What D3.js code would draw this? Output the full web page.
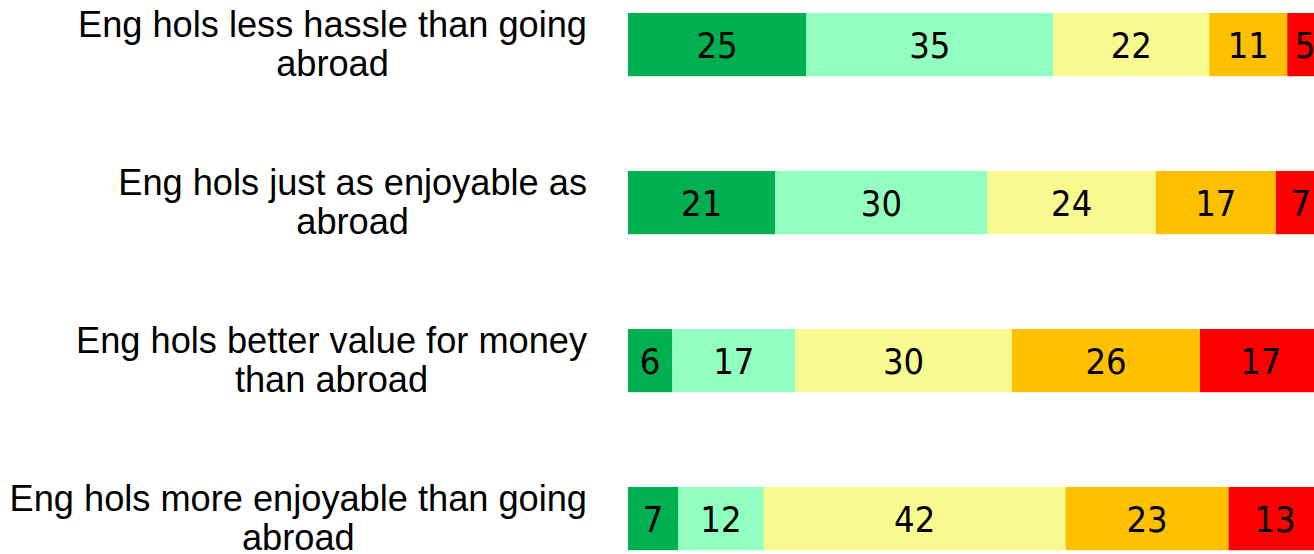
<!DOCTYPE html>
<html>
<head>
<meta charset="utf-8">
<script src="https://cdn.jsdelivr.net/npm/d3@7"></script>
<style>
	body { margin: 0; background: #fff; }
	svg { display: block; }
</style>
</head>
<body>
<svg id="chart" width="1314" height="554"></svg>
<script>
// statements, one bar each (\n = line break as in the original)
var statements = [
	'Eng hols less hassle than going\nabroad',
	'Eng hols just as enjoyable as\nabroad',
	'Eng hols better value for money\nthan abroad',
	'Eng hols more enjoyable than going\nabroad'
];
var answers = ['Agree strongly', 'Agree slightly', 'Neither', 'Disagree slightly', 'Disagree strongly'];
var answerColors = ['#00B050', '#92FFC0', '#F8FA90', '#FFC000', '#FF0000'];

// % per answer
var agreeStrongly = [24.9, 20.6, 6.2, 7.0];
var agreeSlightly = [34.6, 29.7, 17.2, 12.0];
var neither = [21.8, 23.5, 30.3, 42.2];
var disagreeSlightly = [10.9, 16.8, 26.3, 22.8];
var disagreeStrongly = [5.0, 7.0, 17.0, 13.0];

var series = [agreeStrongly, agreeSlightly, neither, disagreeSlightly, disagreeStrongly];

var rows = statements.map(function(s, i) {
	var row = {statement: s};
	answers.forEach(function(a, j) { row[a] = series[j][i]; });
	return row;
});

var svg = d3.select('#chart');

var x = d3.scaleLinear()
	.domain([0, 100])
	.range([628, 1343]);

var y = d3.scaleBand()
	.domain(statements)
	.range([-34.4, 597.6])
	.paddingInner(0.6)
	.paddingOuter(0.3);

var color = d3.scaleOrdinal()
	.domain(answers)
	.range(answerColors);

var stacked = d3.stack().keys(answers)(rows);

var layers = svg.append('g').selectAll('g')
	.data(stacked)
	.join('g')
	.attr('fill', function(d) {return color(d.key)});

layers.selectAll('rect')
	.data(function(d) {return d})
	.join('rect')
	.attr('x', function(d) {return x(d[0])})
	.attr('y', function(d) {return y(d.data.statement)})
	.attr('width', function(d) {return x(d[1]) - x(d[0])})
	.attr('height', y.bandwidth());

layers.selectAll('text')
	.data(function(d) {return d})
	.join('text')
	.attr('x', function(d) {return (x(d[0]) + x(d[1])) / 2})
	.attr('y', function(d) {return y(d.data.statement) + y.bandwidth() / 2})
	.attr('dy', '0.36em')
	.attr('text-anchor', 'middle')
	.style('font-family', "'DejaVu Sans Condensed', 'DejaVu Sans', sans-serif")
	.style('font-stretch', 'condensed')
	.style('font-size', '36px')
	.attr('fill', '#000')
	.text(function(d) {return Math.round(d[1] - d[0])});

// statement labels: block right-aligned at 587, lines centred within it
var labels = svg.append('g').selectAll('text')
	.data(statements)
	.join('text')
	.style('font-family', "'Liberation Sans', Arial, sans-serif")
	.style('font-size', '36.2px')
	.attr('fill', '#000')
	.attr('text-anchor', 'middle');

labels.each(function(s) {
	var t = d3.select(this);
	var lines = s.split('\n');
	var cy = y(s) + y.bandwidth() / 2;
	lines.forEach(function(line, i) {
		t.append('tspan')
			.attr('y', cy - 8 + i * 39)
			.text(line);
	});
	var w = d3.max(t.selectAll('tspan').nodes(), function(n) {return n.getComputedTextLength()});
	t.selectAll('tspan').attr('x', 587 - w / 2);
});
</script>
</body>
</html>
